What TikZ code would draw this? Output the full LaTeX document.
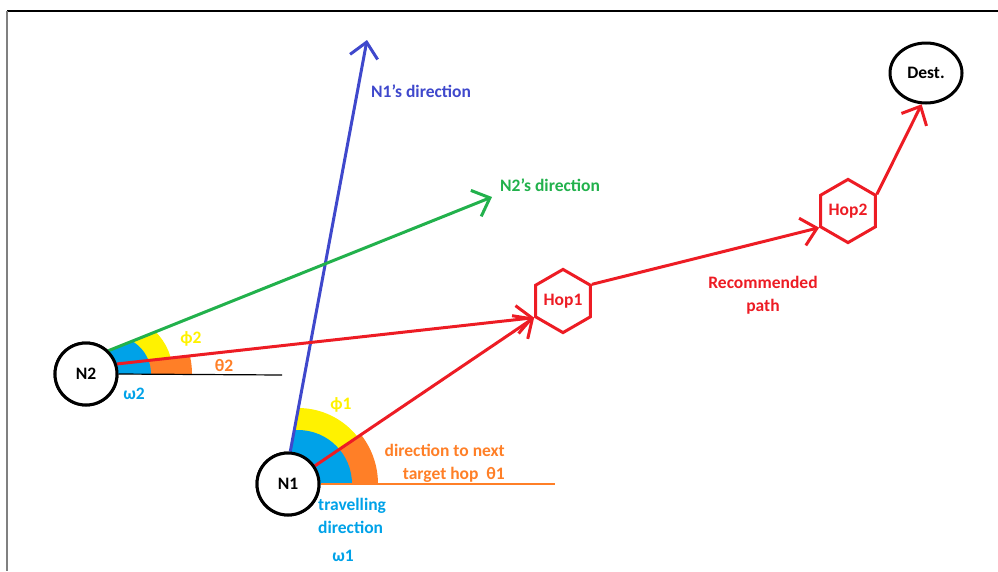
\documentclass[tikz,border=0pt]{standalone}
\usepackage{fontspec}
\setmainfont{Carlito}
\usetikzlibrary{arrows.meta}
\usetikzlibrary{shapes.geometric}
\definecolor{pblue}{RGB}{63,72,204}
\definecolor{pgreen}{RGB}{34,177,76}
\definecolor{pred}{RGB}{237,28,36}
\definecolor{pyellow}{RGB}{255,242,0}
\definecolor{porange}{RGB}{255,127,39}
\definecolor{pcyan}{RGB}{0,162,232}
\newcommand{\apos}{{\char"27}}

\begin{document}
\begin{tikzpicture}[x=1pt, y=-1pt,
                    every node/.style={font=\fontsize{17.5}{23}\selectfont\bfseries, inner sep=0pt},
                    station/.style={draw, circle, line width=3pt, fill=white, minimum size=62pt},
                    hop/.style={draw=pred, text=pred, regular polygon, regular polygon sides=6,
                                shape border rotate=30, line width=3pt, minimum size=63pt},
                    goal/.style={draw, ellipse, line width=3pt, fill=white,
                                 minimum width=72pt, minimum height=60pt},
                    heading/.style={line width=3pt, -{Straight Barb[length=15pt,width=28pt]}},
                    route/.style={heading, pred},
                    ground/.style={line width=1.2pt}]

    \useasboundingbox (0,0) rectangle (998,571);
    \draw[line width=1.5pt] (7,11) -- (998,11);
    \draw[gray, line width=2pt] (7,11) -- (7,571);

    \node[station] (n1) at (288,484) {N1};
    \node[station] (n2) at (86,374) {N2};
    \node[hop] (hop1) at (563,301) {Hop1};
    \node[hop] (hop2) at (848,211) {Hop2};
    \node[goal] (dest) at (926,73) {Dest.};

    \coordinate (n1dir) at (367,40);
    \coordinate (n2dir) at (492,197);
    \coordinate (b1end) at (555,484);
    \coordinate (b2end) at (282,375);
    \coordinate (w1) at (298,484);
    \coordinate (w2) at (113,374);

    % angle wedges at N2
    \begin{scope}
        \clip (n2.east) -- (b2end) -- (hop1.210) -- (n2.18) -- cycle;
        \fill[porange] (w2) circle (79);
    \end{scope}
    \begin{scope}
        \clip (n2.18) -- (hop1.210) -- (n2dir) -- (n2.46) -- cycle;
        \fill[pyellow] (w2) circle (60);
    \end{scope}
    \begin{scope}
        \clip (n2.east) -- (b2end) -- (n2dir) -- (n2.46) -- cycle;
        \fill[pcyan] (w2) circle (38);
    \end{scope}

    % angle wedges at N1
    \begin{scope}
        \clip (n1.east) -- (b1end) -- (hop1.210) -- (n1.34) -- cycle;
        \fill[porange] (w1) circle (80);
    \end{scope}
    \begin{scope}
        \clip (n1.34) -- (hop1.210) -- (n1dir) -- (n1.86) -- cycle;
        \fill[pyellow] (w1) circle (76);
    \end{scope}
    \begin{scope}
        \clip (n1.east) -- (b1end) -- (n1dir) -- (n1.86) -- cycle;
        \fill[pcyan] (w1) circle (54);
    \end{scope}

    \draw[ground] (n2.east) -- (b2end);
    \draw[ground, porange] (n1.east) -- (b1end);
    \draw[heading, pblue] (n1.86) -- (n1dir);
    \draw[heading, pgreen] (n2.46) -- (n2dir);
    \draw[route] (n2.18) -- (hop1.210);
    \draw[route] (n1.34) -- (hop1.210);
    \draw[route] (hop1.30) -- (hop2.210);
    \draw[route] (hop2.30) -- (dest.262);

    \node[station] at (n1) {N1};
    \node[station] at (n2) {N2};

    \node[text=pblue, anchor=west] (n1lab) at (371,91) {N1\apos s direction};
    \node[text=pgreen, anchor=west] (n2lab) at (500,185) {N2\apos s direction};
    \node[text=pyellow] (phi2) at (191,339) {ϕ2};
    \node[text=porange] (theta2) at (224,366) {θ2};
    \node[text=pcyan] (omega2) at (134,394) {ω2};
    \node[text=pyellow] (phi1) at (341,405) {ϕ1};
    \node[text=porange, align=right, anchor=east] (nextlab) at (505,463) {direction to next\\target hop~ θ1};
    \node[text=pcyan, align=left, anchor=west] (travlab) at (318,516) {travelling\\direction};
    \node[text=pcyan] (omega1) at (343,556) {ω1};
    \node[text=pred, align=center] (reclab) at (763,295) {Recommended\\path};
\end{tikzpicture}
\end{document}
